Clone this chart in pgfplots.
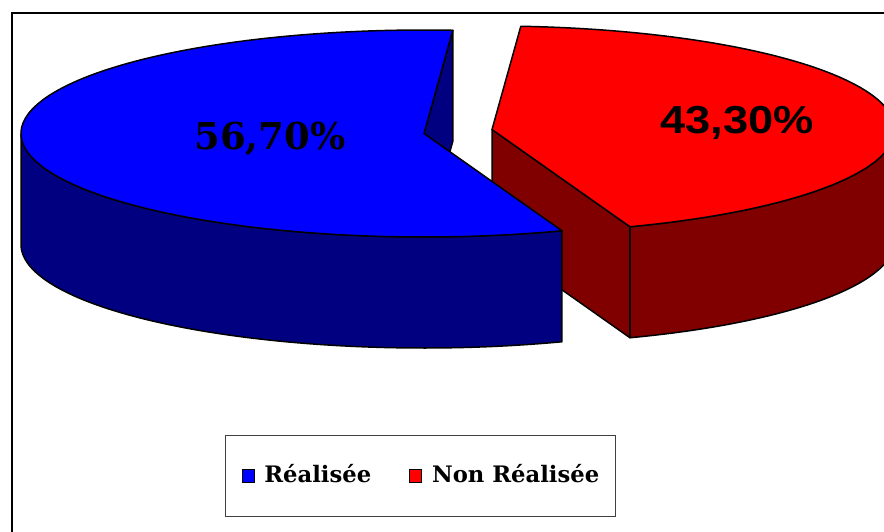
\documentclass[border=0pt]{standalone}
\usepackage{pgfplots}
\pgfplotsset{compat=1.18}
\usepackage{graphicx}
\usepackage{fontspec}
\newfontfamily\dvserif{DejaVu Serif}
\newfontfamily\libsans{Liberation Sans}
\definecolor{pieblue}{RGB}{0,0,255}
\definecolor{pienavy}{RGB}{0,0,128}
\definecolor{piered}{RGB}{255,0,0}
\definecolor{piemaroon}{RGB}{128,0,0}

% data (percent)
\def\vReal{56.7}
\def\vNon{43.3}
% geometry in pixels
\def\pieR{403}
\def\pieRy{103.5}
\def\pieH{111}
\def\bx{424}   \def\by{133.5}   % Realisee (exploded) centre
\def\rx{492}   \def\ry{129.5}   % Non realisee (exploded) centre
\pgfmathsetmacro\tA{85.9}
\pgfmathsetmacro\tB{\tA+3.6*\vReal}
\pgfmathsetmacro\tC{\tB+3.6*\vNon}
\pgfmathsetmacro\bAx{\bx+\pieR*cos(\tA)}
\pgfmathsetmacro\bAy{\by-\pieRy*sin(\tA)}
\pgfmathsetmacro\bAyh{\bAy+\pieH}
\pgfmathsetmacro\byh{\by+\pieH}
\pgfmathsetmacro\rBx{\rx+\pieR*cos(\tB)}
\pgfmathsetmacro\rBy{\ry-\pieRy*sin(\tB)}
\pgfmathsetmacro\rByh{\rBy+\pieH}
\pgfmathsetmacro\ryh{\ry+\pieH}

\begin{document}
\begin{tikzpicture}
\begin{axis}[
  scale only axis, width=884pt, height=531pt,
  xmin=0, xmax=884, ymin=0, ymax=531, y dir=reverse,
  hide axis, clip=true,
  pie/.style={forget plot, no markers, draw=black, line width=1.5pt, line join=round},
  legend columns=2,
  legend image code/.code={\draw[#1] (0pt,0pt) rectangle (12pt,13pt);},
  legend style={at={(axis cs:225,435)}, anchor=north west, draw=black!75, line width=1pt, fill=white,
    font=\dvserif\bfseries\fontsize{22.7}{27}\selectfont,
    cells={anchor=base},
    nodes={inner sep=0pt, text depth=0pt, text height=13pt},
    inner xsep=16pt, inner ysep=33.6pt,
    /tikz/every odd column/.append style={column sep=10pt},
    /tikz/every even column/.append style={column sep=38pt}},
]
% outer frame
\addplot[forget plot, no markers, black, line width=2pt] coordinates {(12,620) (12,13) (920,13)};

% ---- Non realisee (red) ----
\addplot[pie, fill=piemaroon, domain=0:2.2, samples=221]
  ({\rx+\pieR*cos(\tB+(360-\tB)*min(x,1,2.2-x))},{\ry-\pieRy*sin(\tB+(360-\tB)*min(x,1,2.2-x))+\pieH*min(1,max(0,(x-1)/0.2))}) -- cycle;
\addplot[pie, fill=piemaroon] coordinates {(\rx,\ry) (\rBx,\rBy) (\rBx,\rByh) (\rx,\ryh)} -- cycle;
\addplot[pie, fill=piered, domain=\tB:\tC, samples=200]
  ({\rx+\pieR*cos(x)},{\ry-\pieRy*sin(x)}) -- (axis cs:\rx,\ry) -- cycle;

% ---- Realisee (blue) ----
\addplot[pie, fill=pienavy] coordinates {(\bx,\by) (\bAx,\bAy) (\bAx,\bAyh) (\bx,\byh)} -- cycle;
\addplot[pie, fill=pienavy, domain=0:2.2, samples=221]
  ({\bx+\pieR*cos(180+(\tB-180)*min(x,1,2.2-x))},{\by-\pieRy*sin(180+(\tB-180)*min(x,1,2.2-x))+\pieH*min(1,max(0,(x-1)/0.2))}) -- cycle;
\addplot[pie, fill=pieblue, domain=\tA:\tB, samples=200]
  ({\bx+\pieR*cos(x)},{\by-\pieRy*sin(x)}) -- (axis cs:\bx,\by) -- cycle;

% labels
\node[anchor=base, inner sep=0pt, font=\dvserif\bfseries\fontsize{37}{40}\selectfont] at (axis cs:270,149) {56,70\%};
\node[anchor=base, inner sep=0pt, font=\libsans\bfseries\fontsize{39}{44}\selectfont] at (axis cs:737,133) {\scalebox{1.16}[1]{43,30\%}};

% legend
\addlegendimage{fill=pieblue, draw=black, line width=0.8pt}
\addlegendentry{Réalisée}
\addlegendimage{fill=piered, draw=black, line width=0.8pt}
\addlegendentry{Non Réalisée}
\end{axis}
\pgfresetboundingbox
\path (current axis.south west) rectangle (current axis.north east);
\end{tikzpicture}
\end{document}
